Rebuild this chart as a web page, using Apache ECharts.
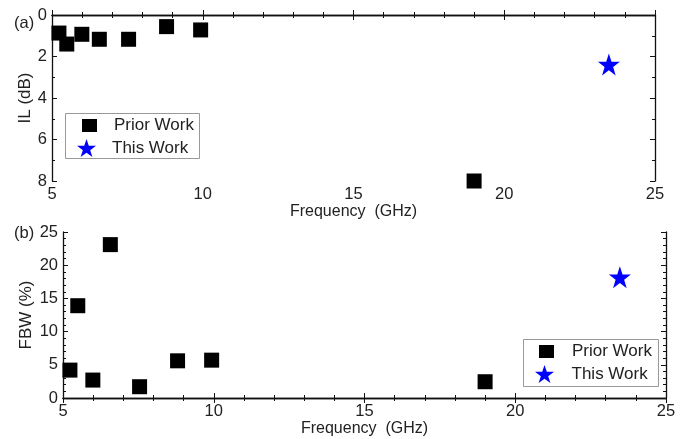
<!DOCTYPE html>
<html><head><meta charset="utf-8">
<script src="https://cdn.jsdelivr.net/npm/echarts@6/dist/echarts.min.js"></script>
<style>html,body{margin:0;padding:0;background:#fff}#c{width:687px;height:439px}</style>
</head><body><div id="c"></div>
<script>
const priorFreq = [5.23, 5.49, 5.99, 6.57, 7.54, 8.80, 9.93, 19.0];
const priorIL   = [0.87, 1.40, 0.93, 1.17, 1.17, 0.56, 0.72, 8.0];
const priorFBW  = [4.2, 13.9, 2.7, 23.1, 1.7, 5.6, 5.7, 2.45];
const thisFreq = [23.47];
const thisIL = [2.38];
const thisFBW = [18.2];
const seriesNames = ['Prior Work', 'This Work'];

const chart = echarts.init(document.getElementById('c'));
const font = '"Liberation Sans", Arial, sans-serif';
const ink = '#111';
function xAx(gi, showLabel, pos) {
  return {
    type: 'value', gridIndex: gi, min: 5, max: 25, interval: 5, position: pos,
    name: showLabel ? 'Frequency  (GHz)' : '', nameLocation: 'middle', nameGap: 23,
    nameTextStyle: {fontFamily: font, fontSize: 16, color: '#222'},
    axisLine: {show: true, lineStyle: {color: ink, width: 1.3}},
    axisTick: {show: true, inside: true, length: 5, lineStyle: {color: ink}},
    minorTick: {show: true, splitNumber: 5, length: 3, lineStyle: {color: ink}},
    axisLabel: {show: showLabel, fontFamily: font, fontSize: 16.5, color: '#222', margin: 5},
    splitLine: {show: false}
  };
}
function yAx(gi, opts, showLabel, pos) {
  return Object.assign({
    type: 'value', gridIndex: gi, position: pos,
    nameLocation: 'middle', nameMoveOverlap: false,
    nameTextStyle: {fontFamily: font, fontSize: 17, color: '#222'},
    axisLine: {show: true, lineStyle: {color: ink, width: 1.3}},
    axisTick: {show: true, inside: true, length: 5, lineStyle: {color: ink}},
    axisLabel: {show: showLabel, fontFamily: font, fontSize: 16.5, color: '#222', margin: 5},
    splitLine: {show: false}
  }, opts);
}
const pairs = (xs, ys) => xs.map((x, i) => [x, ys[i]]);
const starPath = 'path://M50,0 L61.8,35.3 L99,35.3 L69,57.3 L80.3,92.7 L50,70.8 L19.7,92.7 L31,57.3 L1,35.3 L38.2,35.3 Z';

function legendItem(name, icon, left, top, w, h, textPad) {
  return {
    left: left, top: top, padding: 0, itemWidth: w, itemHeight: h, selectedMode: false,
    textStyle: {fontFamily: font, fontSize: 17, color: '#222', padding: [0, 0, 0, textPad]},
    itemStyle: {opacity: 1},
    data: [{name: name, icon: icon}]
  };
}

chart.setOption({
  animation: false,
  backgroundColor: '#fff',
  grid: [
    {left: 52, top: 15, width: 603, height: 166},
    {left: 63, top: 232, width: 603, height: 166}
  ],
  xAxis: [xAx(0, true, 'bottom'), xAx(0, false, 'top'), xAx(1, true, 'bottom'), xAx(1, false, 'top')],
  yAxis: [
    yAx(0, {min: 0, max: 8, interval: 2, inverse: true, name: 'IL (dB)', nameGap: 18.5,
      minorTick: {show: true, splitNumber: 2, length: 3, lineStyle: {color: ink}}}, true, 'left'),
    yAx(0, {min: 0, max: 8, interval: 2, inverse: true,
      minorTick: {show: true, splitNumber: 2, length: 3, lineStyle: {color: ink}}}, false, 'right'),
    yAx(1, {min: 0, max: 25, interval: 5, name: 'FBW (%)', nameGap: 28.5,
      minorTick: {show: true, splitNumber: 5, length: 3, lineStyle: {color: ink}}}, true, 'left'),
    yAx(1, {min: 0, max: 25, interval: 5,
      minorTick: {show: true, splitNumber: 5, length: 3, lineStyle: {color: ink}}}, false, 'right')
  ],
  legend: [
    legendItem(seriesNames[0], 'rect', 82, 117, 15, 13, 12),
    legendItem(seriesNames[1], starPath, 77, 139, 23, 18, 9),
    legendItem(seriesNames[0], 'rect', 539, 343, 15, 13, 13),
    legendItem(seriesNames[1], starPath, 535, 365, 22, 18, 11)
  ],
  graphic: [
    {type: 'rect', shape: {x: 65.5, y: 113.5, width: 134, height: 45},
      style: {fill: 'none', stroke: '#999', lineWidth: 1}},
    {type: 'rect', shape: {x: 523.5, y: 339.5, width: 135, height: 47},
      style: {fill: 'none', stroke: '#999', lineWidth: 1}},
    {type: 'text', left: 14, top: 15, style: {text: '(a)', font: '16.5px ' + font, fill: '#222'}},
    {type: 'text', left: 14, top: 225, style: {text: '(b)', font: '16.5px ' + font, fill: '#222'}}
  ],
  series: [
    {name: seriesNames[0], type: 'scatter', xAxisIndex: 0, yAxisIndex: 0, symbol: 'rect', symbolSize: 15,
      itemStyle: {color: '#000', opacity: 1}, data: pairs(priorFreq, priorIL)},
    {name: seriesNames[1], type: 'scatter', xAxisIndex: 0, yAxisIndex: 0, symbol: starPath, symbolSize: 22,
      itemStyle: {color: '#0000ff', opacity: 1}, data: pairs(thisFreq, thisIL)},
    {name: seriesNames[0], type: 'scatter', xAxisIndex: 2, yAxisIndex: 2, symbol: 'rect', symbolSize: 15,
      itemStyle: {color: '#000', opacity: 1}, data: pairs(priorFreq, priorFBW)},
    {name: seriesNames[1], type: 'scatter', xAxisIndex: 2, yAxisIndex: 2, symbol: starPath, symbolSize: 22,
      itemStyle: {color: '#0000ff', opacity: 1}, data: pairs(thisFreq, thisFBW)}
  ]
});
</script></body></html>
